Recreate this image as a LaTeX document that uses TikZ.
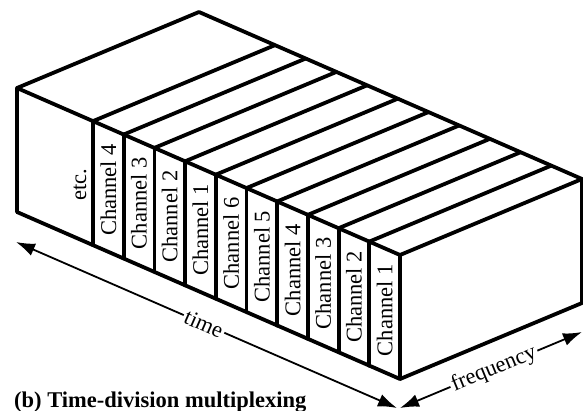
\documentclass[tikz,border=0pt]{standalone}
\usepackage{fontspec}
\setmainfont{Liberation Serif}
\usetikzlibrary{arrows.meta,calc}
\begin{document}
\begin{tikzpicture}[x=1pt,y=-1pt,
  edge/.style={line width=3.8pt,line join=round,line cap=round},
  lbl/.style={font=\fontsize{22.5}{27}\selectfont,inner sep=0pt},
  dimline/.style={line width=1.8pt,{Latex[length=19pt,width=13pt]}-{Latex[length=19pt,width=13pt]}},
  gaplbl/.style={lbl,fill=white,inner xsep=2pt,inner ysep=1pt}]
\fill[white] (0,0) rectangle (583,410);
\useasboundingbox (0,0) rectangle (583,410);
% main corners
\coordinate (A) at (17,88);
\coordinate (Ab) at (17,212);
\coordinate (B) at (400,255);
\coordinate (Bb) at (400,379);
\coordinate (T) at (199,12);
\coordinate (R) at (582,179);
\coordinate (Rb) at (582,303);
% faces outline
\draw[edge] (A) -- (B) -- (Bb) -- (Ab) -- cycle;
\draw[edge] (A) -- (T) -- (R) -- (B);
\draw[edge] (R) -- (Rb) -- (Bb);
% channel dividers
\foreach \i in {0,...,9} {
  \pgfmathsetmacro\xx{93+30.7*\i}
  \pgfmathsetmacro\yy{88+0.436*(\xx-17)}
  \coordinate (d\i) at (\xx,\yy);
  \draw[edge] (d\i) -- ++(0,124);
  \draw[edge] (d\i) -- ++(182,-76);
}
% labels
\node[lbl,rotate=90] (etc) at (80,185) {etc.};
\foreach \lab [count=\i from 0] in {Channel 4,Channel 3,Channel 2,Channel 1,Channel 6,Channel 5,Channel 4,Channel 3,Channel 2,Channel 1} {
  \pgfmathsetmacro\xc{93+30.7*\i+15.35}
  \pgfmathsetmacro\yc{88+0.436*(\xc-17)+62}
  \node[lbl,rotate=90] (ch\i) at (\xc,\yc) {\lab};
}
% dimension arrows
\coordinate (tL) at (16,242);
\coordinate (tR) at (397,408);
\coordinate (fL) at (400,408);
\coordinate (fR) at (582,332);
\draw[dimline] (tL) -- (tR);
\draw[dimline] (fL) -- (fR);
\node[gaplbl,rotate=-23.6] (time) at (204,324) {time};
\node[gaplbl,rotate=22.4] (freq) at (494,369) {frequency};
% caption
\node[lbl,anchor=base west,font=\fontsize{22.5}{27}\selectfont\bfseries] (cap) at (14,407) {(b) Time-division multiplexing};
\end{tikzpicture}
\end{document}
